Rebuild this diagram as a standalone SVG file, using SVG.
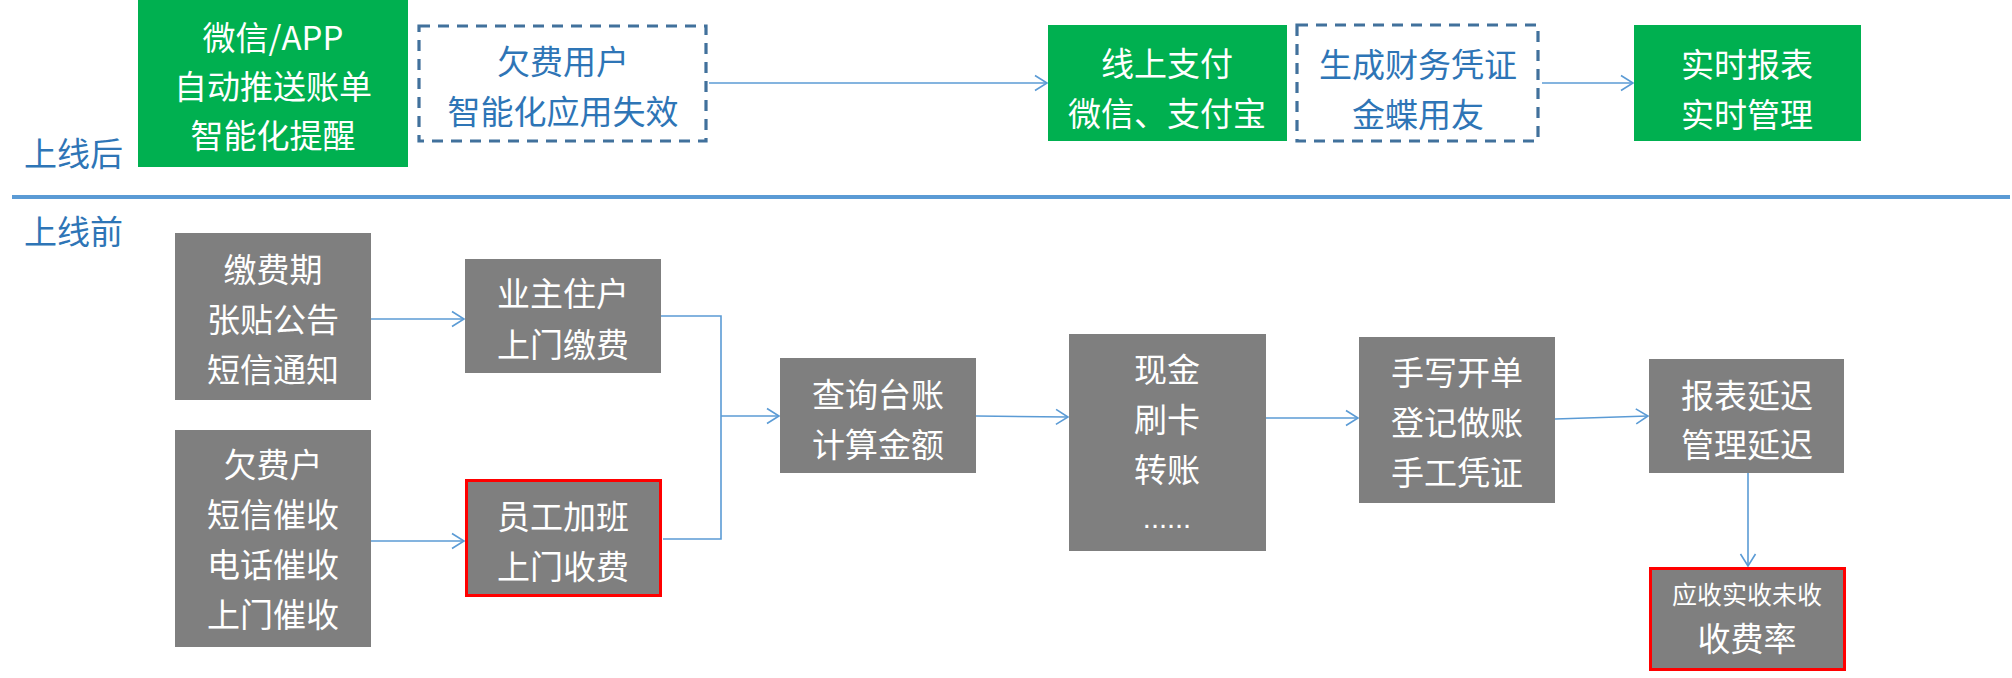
<svg xmlns="http://www.w3.org/2000/svg" width="2012" height="678" viewBox="0 0 2012 678">
<style>
text{font-family:"Noto Sans CJK SC","Noto Sans",sans-serif;font-size:33px;text-anchor:middle;dominant-baseline:central}
.w{fill:#FFFFFF}
.b{fill:#2E75B6}
.green{fill:#00B050}
.gray{fill:#7F7F7F}
.red{fill:#7F7F7F;stroke:#FF0000;stroke-width:3}
.dash{fill:#FFFFFF;stroke:#41719C;stroke-width:3.2;stroke-dasharray:11 8}
.conn{fill:none;stroke:#5B9BD5;stroke-width:1.6}
.lbl{text-anchor:start;fill:#2E75B6}
</style>
<defs>
<marker id="arr" markerUnits="userSpaceOnUse" markerWidth="16" markerHeight="18" refX="13" refY="8" orient="auto" overflow="visible">
<path d="M1,0.5 L13,8 L1,15.5" fill="none" stroke="#5B9BD5" stroke-width="1.6"/>
</marker>
</defs>
<rect width="2012" height="678" fill="#FFFFFF"/>

<g id="labels">
<text class="lbl" x="24" y="152">上线后</text>
<line x1="12" y1="197" x2="2010" y2="197" stroke="#5B9BD5" stroke-width="4"/>
<text class="lbl" x="24" y="230">上线前</text>
</g>

<g id="connectors">
<line class="conn" x1="709" y1="83" x2="1047" y2="83" marker-end="url(#arr)"/>
<line class="conn" x1="1542" y1="83" x2="1633" y2="83" marker-end="url(#arr)"/>
<line class="conn" x1="371" y1="319" x2="464" y2="319" marker-end="url(#arr)"/>
<line class="conn" x1="371" y1="541" x2="464" y2="541" marker-end="url(#arr)"/>
<polyline class="conn" points="661,316 721,316 721,539 663,539"/>
<line class="conn" x1="721" y1="416" x2="779" y2="416" marker-end="url(#arr)"/>
<line class="conn" x1="976" y1="416" x2="1068" y2="417" marker-end="url(#arr)"/>
<line class="conn" x1="1266" y1="418" x2="1358" y2="418" marker-end="url(#arr)"/>
<line class="conn" x1="1555" y1="419" x2="1648" y2="416" marker-end="url(#arr)"/>
<line class="conn" x1="1748" y1="473" x2="1748" y2="566" marker-end="url(#arr)"/>
</g>

<g id="n-push">
<rect class="green" x="138" y="0" width="270" height="167"/>
<text class="w" x="273" y="36">微信/APP</text>
<text class="w" x="273" y="85">自动推送账单</text>
<text class="w" x="273" y="134">智能化提醒</text>
</g>
<g id="n-arrears-online">
<rect class="dash" x="419" y="26" width="287" height="115"/>
<text class="b" x="563" y="60">欠费用户</text>
<text class="b" x="563" y="110">智能化应用失效</text>
</g>
<g id="n-online-pay">
<rect class="green" x="1048" y="25" width="239" height="116"/>
<text class="w" x="1167" y="62">线上支付</text>
<text class="w" x="1167" y="112">微信、支付宝</text>
</g>
<g id="n-voucher">
<rect class="dash" x="1297" y="25" width="241" height="116"/>
<text class="b" x="1418" y="63">生成财务凭证</text>
<text class="b" x="1418" y="113">金蝶用友</text>
</g>
<g id="n-realtime">
<rect class="green" x="1634" y="25" width="227" height="116"/>
<text class="w" x="1747" y="63">实时报表</text>
<text class="w" x="1747" y="113">实时管理</text>
</g>

<g id="n-notice">
<rect class="gray" x="175" y="233" width="196" height="167"/>
<text class="w" x="273" y="268">缴费期</text>
<text class="w" x="273" y="318">张贴公告</text>
<text class="w" x="273" y="368">短信通知</text>
</g>
<g id="n-owner">
<rect class="gray" x="465" y="259" width="196" height="114"/>
<text class="w" x="563" y="292">业主住户</text>
<text class="w" x="563" y="343">上门缴费</text>
</g>
<g id="n-arrears">
<rect class="gray" x="175" y="430" width="196" height="217"/>
<text class="w" x="273" y="463">欠费户</text>
<text class="w" x="273" y="513">短信催收</text>
<text class="w" x="273" y="563">电话催收</text>
<text class="w" x="273" y="613">上门催收</text>
</g>
<g id="n-staff">
<rect class="red" x="466.5" y="480.5" width="194" height="115"/>
<text class="w" x="563" y="515">员工加班</text>
<text class="w" x="563" y="565">上门收费</text>
</g>
<g id="n-ledger">
<rect class="gray" x="780" y="358" width="196" height="115"/>
<text class="w" x="878" y="393">查询台账</text>
<text class="w" x="878" y="443">计算金额</text>
</g>
<g id="n-cash">
<rect class="gray" x="1069" y="334" width="197" height="217"/>
<text class="w" x="1167" y="368">现金</text>
<text class="w" x="1167" y="418">刷卡</text>
<text class="w" x="1167" y="468">转账</text>
<text class="w" x="1167" y="518" style="font-family:'Liberation Sans',sans-serif;font-size:29px">......</text>
</g>
<g id="n-manual">
<rect class="gray" x="1359" y="337" width="196" height="166"/>
<text class="w" x="1457" y="371">手写开单</text>
<text class="w" x="1457" y="421">登记做账</text>
<text class="w" x="1457" y="471">手工凭证</text>
</g>
<g id="n-delay">
<rect class="gray" x="1649" y="359" width="195" height="114"/>
<text class="w" x="1747" y="394">报表延迟</text>
<text class="w" x="1747" y="443">管理延迟</text>
</g>
<g id="n-rate">
<rect class="red" x="1650.5" y="568.5" width="194" height="101"/>
<text class="w" x="1747" y="593" style="font-size:25px">应收实收未收</text>
<text class="w" x="1747" y="637">收费率</text>
</g>
</svg>
